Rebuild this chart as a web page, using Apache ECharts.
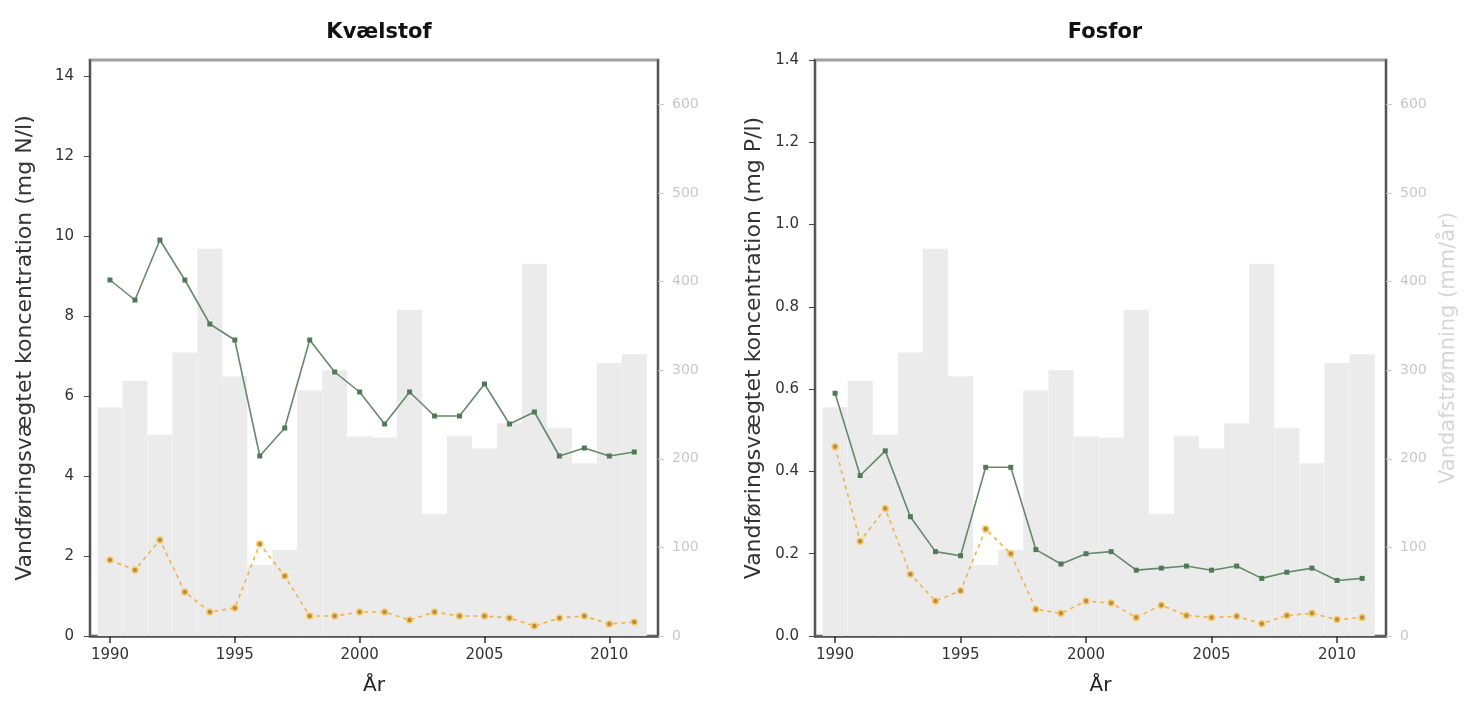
<!DOCTYPE html>
<html>
<head>
<meta charset="utf-8">
<script src="https://cdn.jsdelivr.net/npm/echarts@6/dist/echarts.min.js"></script>
<style>
html,body{margin:0;padding:0;background:#fff;}
#c{width:1467px;height:703px;}
</style>
</head>
<body>
<div id="c"></div>
<script>
// ---- data ----
const years = [1990,1991,1992,1993,1994,1995,1996,1997,1998,1999,2000,2001,2002,2003,2004,2005,2006,2007,2008,2009,2010,2011];
// Vandafstrømning (mm/år) - same station for both panels
const runoff = [258,288,227,320,437,293,80,97,277,300,225,224,368,138,226,212,240,420,235,195,308,318];
// Kvælstof (mg N/l)
const nGreen  = [8.9,8.4,9.9,8.9,7.8,7.4,4.5,5.2,7.4,6.6,6.1,5.3,6.1,5.5,5.5,6.3,5.3,5.6,4.5,4.7,4.5,4.6];
const nOrange = [1.9,1.65,2.4,1.1,0.6,0.7,2.3,1.5,0.5,0.5,0.6,0.6,0.4,0.6,0.5,0.5,0.45,0.25,0.45,0.5,0.3,0.35];
// Fosfor (mg P/l)
const pGreen  = [0.59,0.39,0.45,0.29,0.205,0.195,0.41,0.41,0.21,0.175,0.2,0.205,0.16,0.165,0.17,0.16,0.17,0.14,0.155,0.165,0.135,0.14];
const pOrange = [0.46,0.23,0.31,0.15,0.085,0.11,0.26,0.2,0.065,0.055,0.085,0.08,0.045,0.075,0.05,0.045,0.048,0.03,0.05,0.055,0.04,0.045];
// tick labels
const xTicks = [1990,1995,2000,2005,2010];
const nTicks = [0,2,4,6,8,10,12,14];
const pTicks = [0,0.2,0.4,0.6,0.8,1.0,1.2,1.4];
const rTicks = [0,100,200,300,400,500,600];
const titles = ['Kvælstof','Fosfor'];
const leftNames = ['Vandføringsvægtet koncentration (mg N/l)','Vandføringsvægtet koncentration (mg P/l)'];
const rightName = 'Vandafstrømning (mm/år)';
const xName = 'År';

const pair = (arr) => years.map((y,i)=>[y,arr[i]]);
const FONT = 'DejaVu Sans, Verdana, sans-serif';

const grids = [
  {left:90, right:809, top:60, bottom:67},
  {left:815, right:81, top:60, bottom:67}
];

function xAxis(gi){
  return {
    type:'value', gridIndex:gi, min:1989.2, max:2011.95,
    name:xName, nameLocation:'middle', nameGap:40,
    nameTextStyle:{fontSize:20, color:'#222', fontFamily:FONT},
    axisLine:{show:true, lineStyle:{color:'#555', width:2.5}},
    axisTick:{show:true, customValues:xTicks, length:7, lineStyle:{color:'#333', width:1.5}},
    axisLabel:{customValues:xTicks, fontSize:15, color:'#333', fontFamily:FONT, margin:12, formatter:v=>String(v)},
    splitLine:{show:false}
  };
}
function leftY(gi, max, ticks, name, fmt, gap){
  return {
    type:'value', gridIndex:gi, min:0, max:max, position:'left',
    name:name, nameLocation:'middle', nameGap:gap,
    nameTextStyle:{fontSize:22, color:'#333', fontFamily:FONT},
    axisLine:{show:true, lineStyle:{color:'#555', width:2}},
    axisTick:{show:true, customValues:ticks, length:6, lineStyle:{color:'#444'}},
    axisLabel:{customValues:ticks, fontSize:15, color:'#333', fontFamily:FONT, margin:16, formatter:fmt},
    splitLine:{show:false}
  };
}
function rightY(gi, showName){
  return {
    type:'value', gridIndex:gi, min:0, max:650, position:'right',
    name: showName ? rightName : '', nameLocation:'middle', nameGap:52,
    nameTextStyle:{fontSize:21, color:'#d6d6d6', fontFamily:FONT},
    axisLine:{show:true, lineStyle:{color:'#555', width:2}},
    axisTick:{show:true, customValues:rTicks, length:6, lineStyle:{color:'#ccc'}},
    axisLabel:{customValues:rTicks, fontSize:14, color:'#c8c8c8', fontFamily:FONT, margin:14},
    splitLine:{show:false}
  };
}

const barStyle = {color:'#ebebeb'};
function bars(gi, yi){
  return {type:'bar', xAxisIndex:gi, yAxisIndex:yi, data:pair(runoff), barWidth:'100%', itemStyle:barStyle, z:1, silent:true};
}
function green(gi, yi, arr){
  return {type:'line', xAxisIndex:gi, yAxisIndex:yi, data:pair(arr), z:3,
    lineStyle:{color:'#66896a', width:1.6}, symbol:'rect', symbolSize:5,
    itemStyle:{color:'#4f7a55', borderWidth:0}};
}
function orange(gi, yi, arr){
  return {type:'line', xAxisIndex:gi, yAxisIndex:yi, data:pair(arr), z:4,
    lineStyle:{color:'#f2b04a', width:1.6, type:[4,4]}, symbol:'circle', symbolSize:6,
    itemStyle:{color:'#b98a4a', borderColor:'#f6cf6a', borderWidth:1.5}};
}

const chart = echarts.init(document.getElementById('c'), null, {renderer:'canvas'});
chart.setOption({
  animation:false,
  backgroundColor:'#fff',
  title:[
    {text:titles[0], left:374, top:17, textAlign:'center', textStyle:{fontSize:21, fontWeight:'bold', color:'#111', fontFamily:FONT}},
    {text:titles[1], left:1100, top:17, textAlign:'center', textStyle:{fontSize:21, fontWeight:'bold', color:'#111', fontFamily:FONT}}
  ],
  grid: grids.map(g=>Object.assign({show:true, borderColor:'#a0a0a0', borderWidth:3, backgroundColor:'transparent'}, g)),
  xAxis:[xAxis(0), xAxis(1)],
  yAxis:[
    leftY(0, 14.4, nTicks, leftNames[0], v=>String(v), 54),
    rightY(0, false),
    leftY(1, 1.4, pTicks, leftNames[1], v=>v.toFixed(1), 50),
    rightY(1, true)
  ],
  series:[
    bars(0,1), green(0,0,nGreen), orange(0,0,nOrange),
    bars(1,3), green(1,2,pGreen), orange(1,2,pOrange)
  ]
});
</script>
</body>
</html>
